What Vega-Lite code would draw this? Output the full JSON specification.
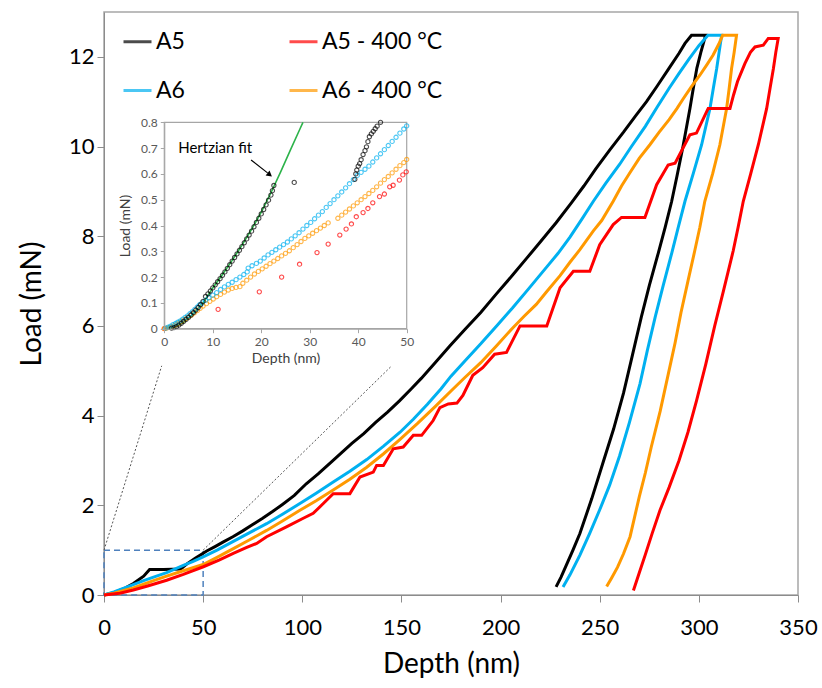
{
  "$schema": "https://vega.github.io/schema/vega-lite/v6.json",
  "width": 694,
  "height": 583,
  "autosize": {"type": "none"},
  "padding": {"left": 104, "top": 12, "right": 24, "bottom": 93},
  "background": "white",
  "config": {
    "font": "Lato",
    "view": {"stroke": "#a6a6a6", "strokeWidth": 1.5},
    "axis": {"grid": false, "domainColor": "#8c8c8c", "tickColor": "#8c8c8c", "labelColor": "#000000", "titleColor": "#000000", "titleFontWeight": "normal", "labelFont": "Lato", "titleFont": "Lato"},
    "legend": {"orient": "none", "legendX": 18, "legendY": 14, "columns": 2, "columnPadding": 98, "rowPadding": 21, "symbolType": "stroke", "symbolSize": 784, "symbolStrokeWidth": 3, "labelFontSize": 23, "labelOffset": 3, "padding": 0, "labelFont": "Lato", "labelColor": "#000000", "labelLimit": 300}
  },
  "datasets": {
    "main": [
      {"s":"A5","i":1,"d":0,"p":0},{"s":"A5","i":2,"d":5,"p":0.05},{"s":"A5","i":3,"d":10,"p":0.14},{"s":"A5","i":4,"d":15,"p":0.26},{"s":"A5","i":5,"d":20,"p":0.42},{"s":"A5","i":6,"d":23,"p":0.57},{"s":"A5","i":7,"d":30,"p":0.57},{"s":"A5","i":8,"d":38.7,"p":0.58},{"s":"A5","i":9,"d":42,"p":0.7},{"s":"A5","i":10,"d":46,"p":0.82},{"s":"A5","i":11,"d":51.8,"p":0.98},{"s":"A5","i":12,"d":56,"p":1.08},{"s":"A5","i":13,"d":60,"p":1.18},{"s":"A5","i":14,"d":65,"p":1.3},{"s":"A5","i":15,"d":70,"p":1.43},{"s":"A5","i":16,"d":75,"p":1.57},{"s":"A5","i":17,"d":80,"p":1.71},{"s":"A5","i":18,"d":85,"p":1.86},{"s":"A5","i":19,"d":90,"p":2.02},{"s":"A5","i":20,"d":96,"p":2.22},{"s":"A5","i":21,"d":102,"p":2.48},{"s":"A5","i":22,"d":108,"p":2.7},{"s":"A5","i":23,"d":115,"p":2.98},{"s":"A5","i":24,"d":120,"p":3.18},{"s":"A5","i":25,"d":125,"p":3.38},{"s":"A5","i":26,"d":131,"p":3.6},{"s":"A5","i":27,"d":137,"p":3.85},{"s":"A5","i":28,"d":143,"p":4.08},{"s":"A5","i":29,"d":149,"p":4.33},{"s":"A5","i":30,"d":155,"p":4.6},{"s":"A5","i":31,"d":160,"p":4.83},{"s":"A5","i":32,"d":167,"p":5.18},{"s":"A5","i":33,"d":174.5,"p":5.56},{"s":"A5","i":34,"d":182,"p":5.92},{"s":"A5","i":35,"d":190,"p":6.3},{"s":"A5","i":36,"d":198,"p":6.72},{"s":"A5","i":37,"d":206.4,"p":7.15},{"s":"A5","i":38,"d":213,"p":7.5},{"s":"A5","i":39,"d":220,"p":7.87},{"s":"A5","i":40,"d":228,"p":8.3},{"s":"A5","i":41,"d":235.8,"p":8.75},{"s":"A5","i":42,"d":242,"p":9.12},{"s":"A5","i":43,"d":248,"p":9.5},{"s":"A5","i":44,"d":255,"p":9.92},{"s":"A5","i":45,"d":262,"p":10.32},{"s":"A5","i":46,"d":268,"p":10.68},{"s":"A5","i":47,"d":273.6,"p":11.0},{"s":"A5","i":48,"d":279,"p":11.35},{"s":"A5","i":49,"d":285,"p":11.75},{"s":"A5","i":50,"d":290,"p":12.08},{"s":"A5","i":51,"d":293,"p":12.3},{"s":"A5","i":52,"d":296.3,"p":12.48},{"s":"A5","i":53,"d":303.4,"p":12.48},{"s":"A5","i":54,"d":301,"p":12.1},{"s":"A5","i":55,"d":299,"p":11.75},{"s":"A5","i":56,"d":297.2,"p":11.3},{"s":"A5","i":57,"d":295.5,"p":10.85},{"s":"A5","i":58,"d":292,"p":10.0},{"s":"A5","i":59,"d":289,"p":9.35},{"s":"A5","i":60,"d":286.3,"p":8.78},{"s":"A5","i":61,"d":283,"p":8.2},{"s":"A5","i":62,"d":279.5,"p":7.62},{"s":"A5","i":63,"d":275,"p":6.9},{"s":"A5","i":64,"d":271,"p":6.2},{"s":"A5","i":65,"d":266.5,"p":5.35},{"s":"A5","i":66,"d":262,"p":4.5},{"s":"A5","i":67,"d":257,"p":3.7},{"s":"A5","i":68,"d":252,"p":3.0},{"s":"A5","i":69,"d":246,"p":2.15},{"s":"A5","i":70,"d":240,"p":1.37},{"s":"A5","i":71,"d":236.5,"p":1.0},{"s":"A5","i":72,"d":233,"p":0.65},{"s":"A5","i":73,"d":230.5,"p":0.4},{"s":"A5","i":74,"d":228,"p":0.18},
      {"s":"A6","i":1,"d":0,"p":0},{"s":"A6","i":2,"d":5,"p":0.07},{"s":"A6","i":3,"d":10,"p":0.15},{"s":"A6","i":4,"d":14.8,"p":0.23},{"s":"A6","i":5,"d":20,"p":0.32},{"s":"A6","i":6,"d":25,"p":0.4},{"s":"A6","i":7,"d":31.6,"p":0.5},{"s":"A6","i":8,"d":40,"p":0.66},{"s":"A6","i":9,"d":45,"p":0.75},{"s":"A6","i":10,"d":50,"p":0.85},{"s":"A6","i":11,"d":57,"p":1.0},{"s":"A6","i":12,"d":65,"p":1.19},{"s":"A6","i":13,"d":73,"p":1.38},{"s":"A6","i":14,"d":82,"p":1.59},{"s":"A6","i":15,"d":90,"p":1.8},{"s":"A6","i":16,"d":98.8,"p":2.04},{"s":"A6","i":17,"d":107,"p":2.27},{"s":"A6","i":18,"d":115.6,"p":2.52},{"s":"A6","i":19,"d":124,"p":2.76},{"s":"A6","i":20,"d":132.5,"p":3.02},{"s":"A6","i":21,"d":141,"p":3.32},{"s":"A6","i":22,"d":149.3,"p":3.63},{"s":"A6","i":23,"d":156,"p":3.92},{"s":"A6","i":24,"d":163,"p":4.25},{"s":"A6","i":25,"d":170,"p":4.6},{"s":"A6","i":26,"d":175,"p":4.88},{"s":"A6","i":27,"d":182,"p":5.22},{"s":"A6","i":28,"d":190,"p":5.6},{"s":"A6","i":29,"d":198,"p":6.0},{"s":"A6","i":30,"d":206,"p":6.4},{"s":"A6","i":31,"d":214,"p":6.82},{"s":"A6","i":32,"d":223,"p":7.3},{"s":"A6","i":33,"d":229,"p":7.62},{"s":"A6","i":34,"d":235,"p":7.98},{"s":"A6","i":35,"d":241,"p":8.38},{"s":"A6","i":36,"d":246.8,"p":8.78},{"s":"A6","i":37,"d":253,"p":9.18},{"s":"A6","i":38,"d":260,"p":9.6},{"s":"A6","i":39,"d":266,"p":10.0},{"s":"A6","i":40,"d":273,"p":10.45},{"s":"A6","i":41,"d":279,"p":10.88},{"s":"A6","i":42,"d":285,"p":11.3},{"s":"A6","i":43,"d":290,"p":11.63},{"s":"A6","i":44,"d":295,"p":11.95},{"s":"A6","i":45,"d":300,"p":12.25},{"s":"A6","i":46,"d":304.6,"p":12.48},{"s":"A6","i":47,"d":311.5,"p":12.48},{"s":"A6","i":48,"d":310.2,"p":12.1},{"s":"A6","i":49,"d":309,"p":11.74},{"s":"A6","i":50,"d":307.3,"p":11.3},{"s":"A6","i":51,"d":305.6,"p":10.85},{"s":"A6","i":52,"d":301.4,"p":10.04},{"s":"A6","i":53,"d":297.2,"p":9.4},{"s":"A6","i":54,"d":293,"p":8.78},{"s":"A6","i":55,"d":289.6,"p":8.2},{"s":"A6","i":56,"d":286.3,"p":7.62},{"s":"A6","i":57,"d":282,"p":6.9},{"s":"A6","i":58,"d":278,"p":6.2},{"s":"A6","i":59,"d":274,"p":5.45},{"s":"A6","i":60,"d":270.3,"p":4.71},{"s":"A6","i":61,"d":265,"p":3.85},{"s":"A6","i":62,"d":260,"p":3.1},{"s":"A6","i":63,"d":255,"p":2.45},{"s":"A6","i":64,"d":250,"p":1.9},{"s":"A6","i":65,"d":245,"p":1.38},{"s":"A6","i":66,"d":240,"p":0.89},{"s":"A6","i":67,"d":235,"p":0.45},{"s":"A6","i":68,"d":231.5,"p":0.18},
      {"s":"A6 - 400 °C","i":1,"d":0,"p":0},{"s":"A6 - 400 °C","i":2,"d":5,"p":0.04},{"s":"A6 - 400 °C","i":3,"d":10,"p":0.1},{"s":"A6 - 400 °C","i":4,"d":14.8,"p":0.16},{"s":"A6 - 400 °C","i":5,"d":20,"p":0.24},{"s":"A6 - 400 °C","i":6,"d":25,"p":0.32},{"s":"A6 - 400 °C","i":7,"d":31.6,"p":0.42},{"s":"A6 - 400 °C","i":8,"d":40,"p":0.54},{"s":"A6 - 400 °C","i":9,"d":50,"p":0.68},{"s":"A6 - 400 °C","i":10,"d":57,"p":0.84},{"s":"A6 - 400 °C","i":11,"d":65,"p":1.03},{"s":"A6 - 400 °C","i":12,"d":73,"p":1.22},{"s":"A6 - 400 °C","i":13,"d":82,"p":1.44},{"s":"A6 - 400 °C","i":14,"d":90,"p":1.65},{"s":"A6 - 400 °C","i":15,"d":98.8,"p":1.89},{"s":"A6 - 400 °C","i":16,"d":107,"p":2.1},{"s":"A6 - 400 °C","i":17,"d":115.6,"p":2.34},{"s":"A6 - 400 °C","i":18,"d":124,"p":2.58},{"s":"A6 - 400 °C","i":19,"d":132.5,"p":2.85},{"s":"A6 - 400 °C","i":20,"d":141,"p":3.15},{"s":"A6 - 400 °C","i":21,"d":149.3,"p":3.47},{"s":"A6 - 400 °C","i":22,"d":158,"p":3.82},{"s":"A6 - 400 °C","i":23,"d":167,"p":4.2},{"s":"A6 - 400 °C","i":24,"d":175,"p":4.55},{"s":"A6 - 400 °C","i":25,"d":182,"p":4.85},{"s":"A6 - 400 °C","i":26,"d":190,"p":5.18},{"s":"A6 - 400 °C","i":27,"d":198,"p":5.56},{"s":"A6 - 400 °C","i":28,"d":206,"p":5.95},{"s":"A6 - 400 °C","i":29,"d":212,"p":6.22},{"s":"A6 - 400 °C","i":30,"d":218,"p":6.48},{"s":"A6 - 400 °C","i":31,"d":223,"p":6.75},{"s":"A6 - 400 °C","i":32,"d":230,"p":7.12},{"s":"A6 - 400 °C","i":33,"d":235,"p":7.42},{"s":"A6 - 400 °C","i":34,"d":240,"p":7.7},{"s":"A6 - 400 °C","i":35,"d":246.8,"p":8.12},{"s":"A6 - 400 °C","i":36,"d":251,"p":8.35},{"s":"A6 - 400 °C","i":37,"d":256.8,"p":8.78},{"s":"A6 - 400 °C","i":38,"d":261,"p":9.12},{"s":"A6 - 400 °C","i":39,"d":265.3,"p":9.42},{"s":"A6 - 400 °C","i":40,"d":270,"p":9.74},{"s":"A6 - 400 °C","i":41,"d":275.3,"p":10.04},{"s":"A6 - 400 °C","i":42,"d":280,"p":10.32},{"s":"A6 - 400 °C","i":43,"d":285,"p":10.6},{"s":"A6 - 400 °C","i":44,"d":289,"p":10.85},{"s":"A6 - 400 °C","i":45,"d":292.2,"p":11.07},{"s":"A6 - 400 °C","i":46,"d":296,"p":11.32},{"s":"A6 - 400 °C","i":47,"d":300.5,"p":11.59},{"s":"A6 - 400 °C","i":48,"d":304,"p":11.82},{"s":"A6 - 400 °C","i":49,"d":307.2,"p":12.04},{"s":"A6 - 400 °C","i":50,"d":310,"p":12.28},{"s":"A6 - 400 °C","i":51,"d":312,"p":12.48},{"s":"A6 - 400 °C","i":52,"d":319,"p":12.48},{"s":"A6 - 400 °C","i":53,"d":317.8,"p":12.1},{"s":"A6 - 400 °C","i":54,"d":316.5,"p":11.74},{"s":"A6 - 400 °C","i":55,"d":315.3,"p":11.3},{"s":"A6 - 400 °C","i":56,"d":314,"p":10.85},{"s":"A6 - 400 °C","i":57,"d":310.6,"p":10.04},{"s":"A6 - 400 °C","i":58,"d":307,"p":9.4},{"s":"A6 - 400 °C","i":59,"d":303,"p":8.78},{"s":"A6 - 400 °C","i":60,"d":300.5,"p":8.2},{"s":"A6 - 400 °C","i":61,"d":297.9,"p":7.67},{"s":"A6 - 400 °C","i":62,"d":294.5,"p":7.0},{"s":"A6 - 400 °C","i":63,"d":291,"p":6.3},{"s":"A6 - 400 °C","i":64,"d":288,"p":5.62},{"s":"A6 - 400 °C","i":65,"d":284.6,"p":4.93},{"s":"A6 - 400 °C","i":66,"d":280.5,"p":4.1},{"s":"A6 - 400 °C","i":67,"d":276,"p":3.3},{"s":"A6 - 400 °C","i":68,"d":273,"p":2.72},{"s":"A6 - 400 °C","i":69,"d":270,"p":2.2},{"s":"A6 - 400 °C","i":70,"d":267.5,"p":1.72},{"s":"A6 - 400 °C","i":71,"d":265.3,"p":1.3},{"s":"A6 - 400 °C","i":72,"d":262,"p":0.92},{"s":"A6 - 400 °C","i":73,"d":259,"p":0.62},{"s":"A6 - 400 °C","i":74,"d":256,"p":0.38},{"s":"A6 - 400 °C","i":75,"d":253.5,"p":0.19},
      {"s":"A5 - 400 °C","i":1,"d":0,"p":0},{"s":"A5 - 400 °C","i":2,"d":8,"p":0.04},{"s":"A5 - 400 °C","i":3,"d":14.8,"p":0.11},{"s":"A5 - 400 °C","i":4,"d":22,"p":0.2},{"s":"A5 - 400 °C","i":5,"d":31.6,"p":0.33},{"s":"A5 - 400 °C","i":6,"d":40,"p":0.46},{"s":"A5 - 400 °C","i":7,"d":50.1,"p":0.63},{"s":"A5 - 400 °C","i":8,"d":58,"p":0.78},{"s":"A5 - 400 °C","i":9,"d":65.2,"p":0.93},{"s":"A5 - 400 °C","i":10,"d":72,"p":1.06},{"s":"A5 - 400 °C","i":11,"d":77,"p":1.15},{"s":"A5 - 400 °C","i":12,"d":82,"p":1.3},{"s":"A5 - 400 °C","i":13,"d":92,"p":1.52},{"s":"A5 - 400 °C","i":14,"d":100,"p":1.7},{"s":"A5 - 400 °C","i":15,"d":105.5,"p":1.82},{"s":"A5 - 400 °C","i":16,"d":110.6,"p":2.04},{"s":"A5 - 400 °C","i":17,"d":115.6,"p":2.26},{"s":"A5 - 400 °C","i":18,"d":124,"p":2.26},{"s":"A5 - 400 °C","i":19,"d":129.1,"p":2.63},{"s":"A5 - 400 °C","i":20,"d":135.8,"p":2.74},{"s":"A5 - 400 °C","i":21,"d":137.5,"p":2.89},{"s":"A5 - 400 °C","i":22,"d":140.9,"p":2.89},{"s":"A5 - 400 °C","i":23,"d":145.9,"p":3.26},{"s":"A5 - 400 °C","i":24,"d":150.9,"p":3.3},{"s":"A5 - 400 °C","i":25,"d":156,"p":3.56},{"s":"A5 - 400 °C","i":26,"d":160.2,"p":3.56},{"s":"A5 - 400 °C","i":27,"d":166,"p":3.89},{"s":"A5 - 400 °C","i":28,"d":169.4,"p":4.18},{"s":"A5 - 400 °C","i":29,"d":173.6,"p":4.26},{"s":"A5 - 400 °C","i":30,"d":178,"p":4.28},{"s":"A5 - 400 °C","i":31,"d":181,"p":4.45},{"s":"A5 - 400 °C","i":32,"d":186,"p":4.9},{"s":"A5 - 400 °C","i":33,"d":191,"p":5.07},{"s":"A5 - 400 °C","i":34,"d":197,"p":5.37},{"s":"A5 - 400 °C","i":35,"d":203,"p":5.41},{"s":"A5 - 400 °C","i":36,"d":209.8,"p":6.0},{"s":"A5 - 400 °C","i":37,"d":223.3,"p":6.0},{"s":"A5 - 400 °C","i":38,"d":230,"p":6.85},{"s":"A5 - 400 °C","i":39,"d":236.7,"p":7.22},{"s":"A5 - 400 °C","i":40,"d":245,"p":7.22},{"s":"A5 - 400 °C","i":41,"d":250,"p":7.81},{"s":"A5 - 400 °C","i":42,"d":256.8,"p":8.26},{"s":"A5 - 400 °C","i":43,"d":261,"p":8.42},{"s":"A5 - 400 °C","i":44,"d":272.8,"p":8.42},{"s":"A5 - 400 °C","i":45,"d":278.7,"p":9.15},{"s":"A5 - 400 °C","i":46,"d":284.5,"p":9.59},{"s":"A5 - 400 °C","i":47,"d":288,"p":9.63},{"s":"A5 - 400 °C","i":48,"d":295.5,"p":10.26},{"s":"A5 - 400 °C","i":49,"d":298.8,"p":10.3},{"s":"A5 - 400 °C","i":50,"d":304.7,"p":10.85},{"s":"A5 - 400 °C","i":51,"d":315.7,"p":10.85},{"s":"A5 - 400 °C","i":52,"d":317.5,"p":11.15},{"s":"A5 - 400 °C","i":53,"d":319.5,"p":11.45},{"s":"A5 - 400 °C","i":54,"d":323.2,"p":11.85},{"s":"A5 - 400 °C","i":55,"d":326,"p":12.1},{"s":"A5 - 400 °C","i":56,"d":328.3,"p":12.22},{"s":"A5 - 400 °C","i":57,"d":332.5,"p":12.26},{"s":"A5 - 400 °C","i":58,"d":335,"p":12.41},{"s":"A5 - 400 °C","i":59,"d":340,"p":12.41},{"s":"A5 - 400 °C","i":60,"d":338.8,"p":12.1},{"s":"A5 - 400 °C","i":61,"d":337.6,"p":11.74},{"s":"A5 - 400 °C","i":62,"d":335.9,"p":11.3},{"s":"A5 - 400 °C","i":63,"d":334.2,"p":10.85},{"s":"A5 - 400 °C","i":64,"d":330,"p":10.04},{"s":"A5 - 400 °C","i":65,"d":326.2,"p":9.4},{"s":"A5 - 400 °C","i":66,"d":322.4,"p":8.78},{"s":"A5 - 400 °C","i":67,"d":319.8,"p":8.2},{"s":"A5 - 400 °C","i":68,"d":317.3,"p":7.67},{"s":"A5 - 400 °C","i":69,"d":312.5,"p":6.8},{"s":"A5 - 400 °C","i":70,"d":308,"p":6.0},{"s":"A5 - 400 °C","i":71,"d":303.5,"p":5.15},{"s":"A5 - 400 °C","i":72,"d":298.8,"p":4.33},{"s":"A5 - 400 °C","i":73,"d":294.5,"p":3.63},{"s":"A5 - 400 °C","i":74,"d":290,"p":3.0},{"s":"A5 - 400 °C","i":75,"d":285,"p":2.4},{"s":"A5 - 400 °C","i":76,"d":280.4,"p":1.89},{"s":"A5 - 400 °C","i":77,"d":276.5,"p":1.38},{"s":"A5 - 400 °C","i":78,"d":273,"p":0.9},{"s":"A5 - 400 °C","i":79,"d":270,"p":0.5},{"s":"A5 - 400 °C","i":80,"d":267,"p":0.1}
    ],
    "box": [{"d": 0, "p": 0, "d2": 50, "p2": 1}],
    "conn": [{"d": 0, "p": 1, "d2": 29.1, "p2": 5.11}, {"d": 50, "p": 1, "d2": 145.1, "p2": 5.11}],
    "frame": [{"d": 0, "p": 0, "d2": 50, "p2": 0.8}],
    "fit": [{"d":0,"p":0},{"d":2,"p":0.005},{"d":4,"p":0.025},{"d":6,"p":0.058},{"d":8,"p":0.1},{"d":10,"p":0.158},{"d":12,"p":0.21},{"d":14,"p":0.265},{"d":16,"p":0.323},{"d":18,"p":0.385},{"d":20,"p":0.452},{"d":22,"p":0.527},{"d":24,"p":0.608},{"d":26,"p":0.692},{"d":28,"p":0.775},{"d":28.6,"p":0.8}],
    "ann": [{"d": 10.5, "p": 0.70, "t": "Hertzian fit"}],
    "arrow": [{"d": 17.9, "p": 0.654, "d2": 21.3, "p2": 0.604}],
    "head": [{"d": 21.6, "p": 0.599}],
    "inset": [
      {"s":"A5 - 400 °C","d":0,"p":0},{"s":"A5 - 400 °C","d":11.1,"p":0.075},{"s":"A5 - 400 °C","d":19.6,"p":0.143},{"s":"A5 - 400 °C","d":24.2,"p":0.2},{"s":"A5 - 400 °C","d":27.9,"p":0.25},{"s":"A5 - 400 °C","d":31.5,"p":0.295},{"s":"A5 - 400 °C","d":33.8,"p":0.328},{"s":"A5 - 400 °C","d":36.2,"p":0.363},{"s":"A5 - 400 °C","d":37.5,"p":0.386},{"s":"A5 - 400 °C","d":38.6,"p":0.406},{"s":"A5 - 400 °C","d":39.6,"p":0.434},{"s":"A5 - 400 °C","d":41,"p":0.45},{"s":"A5 - 400 °C","d":42,"p":0.466},{"s":"A5 - 400 °C","d":43,"p":0.488},{"s":"A5 - 400 °C","d":44.4,"p":0.512},{"s":"A5 - 400 °C","d":45.4,"p":0.522},{"s":"A5 - 400 °C","d":46.5,"p":0.55},{"s":"A5 - 400 °C","d":47.2,"p":0.556},{"s":"A5 - 400 °C","d":48.5,"p":0.576},{"s":"A5 - 400 °C","d":49.2,"p":0.596},{"s":"A5 - 400 °C","d":49.9,"p":0.608},
      {"s":"A6 - 400 °C","d":0,"p":0},{"s":"A6 - 400 °C","d":0.5,"p":0.002},{"s":"A6 - 400 °C","d":1,"p":0.005},{"s":"A6 - 400 °C","d":1.5,"p":0.008},{"s":"A6 - 400 °C","d":2,"p":0.012},{"s":"A6 - 400 °C","d":2.5,"p":0.017},{"s":"A6 - 400 °C","d":3,"p":0.022},{"s":"A6 - 400 °C","d":3.5,"p":0.028},{"s":"A6 - 400 °C","d":4,"p":0.034},{"s":"A6 - 400 °C","d":4.5,"p":0.04},{"s":"A6 - 400 °C","d":5,"p":0.046},{"s":"A6 - 400 °C","d":5.6,"p":0.053},{"s":"A6 - 400 °C","d":6.2,"p":0.061},{"s":"A6 - 400 °C","d":6.8,"p":0.07},{"s":"A6 - 400 °C","d":7.4,"p":0.079},{"s":"A6 - 400 °C","d":8,"p":0.088},{"s":"A6 - 400 °C","d":8.7,"p":0.097},{"s":"A6 - 400 °C","d":9.4,"p":0.106},{"s":"A6 - 400 °C","d":10.1,"p":0.115},{"s":"A6 - 400 °C","d":10.8,"p":0.124},{"s":"A6 - 400 °C","d":11.6,"p":0.133},{"s":"A6 - 400 °C","d":12.4,"p":0.142},{"s":"A6 - 400 °C","d":13.2,"p":0.15},{"s":"A6 - 400 °C","d":14,"p":0.156},{"s":"A6 - 400 °C","d":14.8,"p":0.16},{"s":"A6 - 400 °C","d":15.6,"p":0.163},{"s":"A6 - 400 °C","d":16.2,"p":0.176},{"s":"A6 - 400 °C","d":17,"p":0.188},{"s":"A6 - 400 °C","d":17.8,"p":0.2},{"s":"A6 - 400 °C","d":18.6,"p":0.212},{"s":"A6 - 400 °C","d":19.4,"p":0.222},{"s":"A6 - 400 °C","d":20.2,"p":0.232},{"s":"A6 - 400 °C","d":21,"p":0.242},{"s":"A6 - 400 °C","d":21.8,"p":0.252},{"s":"A6 - 400 °C","d":22.6,"p":0.262},{"s":"A6 - 400 °C","d":23.4,"p":0.272},{"s":"A6 - 400 °C","d":24.2,"p":0.282},{"s":"A6 - 400 °C","d":25,"p":0.292},{"s":"A6 - 400 °C","d":25.8,"p":0.302},{"s":"A6 - 400 °C","d":26.6,"p":0.314},{"s":"A6 - 400 °C","d":27.4,"p":0.326},{"s":"A6 - 400 °C","d":28.2,"p":0.338},{"s":"A6 - 400 °C","d":29,"p":0.35},{"s":"A6 - 400 °C","d":29.8,"p":0.36},{"s":"A6 - 400 °C","d":30.6,"p":0.37},{"s":"A6 - 400 °C","d":31.4,"p":0.38},{"s":"A6 - 400 °C","d":32.2,"p":0.39},{"s":"A6 - 400 °C","d":33,"p":0.4},{"s":"A6 - 400 °C","d":33.8,"p":0.41},{"s":"A6 - 400 °C","d":35.8,"p":0.428},{"s":"A6 - 400 °C","d":36.6,"p":0.44},{"s":"A6 - 400 °C","d":37.4,"p":0.452},{"s":"A6 - 400 °C","d":38.2,"p":0.464},{"s":"A6 - 400 °C","d":39,"p":0.476},{"s":"A6 - 400 °C","d":39.8,"p":0.488},{"s":"A6 - 400 °C","d":40.6,"p":0.5},{"s":"A6 - 400 °C","d":41.4,"p":0.512},{"s":"A6 - 400 °C","d":42.2,"p":0.524},{"s":"A6 - 400 °C","d":43,"p":0.536},{"s":"A6 - 400 °C","d":43.8,"p":0.55},{"s":"A6 - 400 °C","d":44.6,"p":0.564},{"s":"A6 - 400 °C","d":45.4,"p":0.578},{"s":"A6 - 400 °C","d":46.2,"p":0.59},{"s":"A6 - 400 °C","d":47,"p":0.604},{"s":"A6 - 400 °C","d":47.8,"p":0.618},{"s":"A6 - 400 °C","d":48.6,"p":0.632},{"s":"A6 - 400 °C","d":49.4,"p":0.644},{"s":"A6 - 400 °C","d":50,"p":0.656},
      {"s":"A6","d":0.3,"p":0.002},{"s":"A6","d":0.8,"p":0.006},{"s":"A6","d":1.3,"p":0.01},{"s":"A6","d":1.8,"p":0.016},{"s":"A6","d":2.3,"p":0.02},{"s":"A6","d":2.8,"p":0.025},{"s":"A6","d":3.3,"p":0.03},{"s":"A6","d":3.8,"p":0.037},{"s":"A6","d":4.3,"p":0.044},{"s":"A6","d":4.8,"p":0.05},{"s":"A6","d":5.3,"p":0.058},{"s":"A6","d":5.8,"p":0.066},{"s":"A6","d":6.3,"p":0.075},{"s":"A6","d":6.8,"p":0.084},{"s":"A6","d":7.3,"p":0.093},{"s":"A6","d":7.8,"p":0.1},{"s":"A6","d":8.5,"p":0.11},{"s":"A6","d":9.2,"p":0.12},{"s":"A6","d":10,"p":0.13},{"s":"A6","d":10.8,"p":0.14},{"s":"A6","d":11.6,"p":0.152},{"s":"A6","d":12.4,"p":0.162},{"s":"A6","d":13.2,"p":0.172},{"s":"A6","d":14,"p":0.18},{"s":"A6","d":14.8,"p":0.19},{"s":"A6","d":15.6,"p":0.2},{"s":"A6","d":16.4,"p":0.21},{"s":"A6","d":17.1,"p":0.22},{"s":"A6","d":17.3,"p":0.235},{"s":"A6","d":18.1,"p":0.244},{"s":"A6","d":19,"p":0.253},{"s":"A6","d":19.8,"p":0.262},{"s":"A6","d":20.6,"p":0.274},{"s":"A6","d":21.4,"p":0.286},{"s":"A6","d":22.2,"p":0.296},{"s":"A6","d":23,"p":0.306},{"s":"A6","d":23.8,"p":0.316},{"s":"A6","d":24.6,"p":0.326},{"s":"A6","d":25.4,"p":0.336},{"s":"A6","d":26.2,"p":0.348},{"s":"A6","d":27,"p":0.36},{"s":"A6","d":27.8,"p":0.372},{"s":"A6","d":28.6,"p":0.386},{"s":"A6","d":29.4,"p":0.4},{"s":"A6","d":30.2,"p":0.412},{"s":"A6","d":31,"p":0.426},{"s":"A6","d":31.8,"p":0.44},{"s":"A6","d":32.6,"p":0.454},{"s":"A6","d":33.4,"p":0.47},{"s":"A6","d":34.2,"p":0.485},{"s":"A6","d":35,"p":0.5},{"s":"A6","d":35.8,"p":0.515},{"s":"A6","d":36.6,"p":0.53},{"s":"A6","d":37.4,"p":0.546},{"s":"A6","d":38.2,"p":0.562},{"s":"A6","d":39,"p":0.578},{"s":"A6","d":39.8,"p":0.594},{"s":"A6","d":40.6,"p":0.606},{"s":"A6","d":41.4,"p":0.618},{"s":"A6","d":42.2,"p":0.63},{"s":"A6","d":43,"p":0.646},{"s":"A6","d":43.8,"p":0.662},{"s":"A6","d":44.6,"p":0.678},{"s":"A6","d":45.4,"p":0.694},{"s":"A6","d":46.2,"p":0.71},{"s":"A6","d":47,"p":0.726},{"s":"A6","d":47.8,"p":0.742},{"s":"A6","d":48.6,"p":0.758},{"s":"A6","d":49.4,"p":0.774},{"s":"A6","d":50,"p":0.786},
      {"s":"A5","d":1.5,"p":0.002},{"s":"A5","d":2,"p":0.004},{"s":"A5","d":2.5,"p":0.008},{"s":"A5","d":3,"p":0.014},{"s":"A5","d":3.5,"p":0.021},{"s":"A5","d":4,"p":0.028},{"s":"A5","d":4.5,"p":0.036},{"s":"A5","d":5,"p":0.044},{"s":"A5","d":5.5,"p":0.053},{"s":"A5","d":6,"p":0.062},{"s":"A5","d":6.5,"p":0.072},{"s":"A5","d":7,"p":0.082},{"s":"A5","d":7.5,"p":0.093},{"s":"A5","d":8,"p":0.106},{"s":"A5","d":8.5,"p":0.125},{"s":"A5","d":9,"p":0.135},{"s":"A5","d":9.5,"p":0.146},{"s":"A5","d":10,"p":0.158},{"s":"A5","d":10.5,"p":0.17},{"s":"A5","d":11,"p":0.182},{"s":"A5","d":11.5,"p":0.194},{"s":"A5","d":12,"p":0.207},{"s":"A5","d":12.5,"p":0.22},{"s":"A5","d":13,"p":0.234},{"s":"A5","d":13.5,"p":0.248},{"s":"A5","d":14,"p":0.262},{"s":"A5","d":14.5,"p":0.276},{"s":"A5","d":15,"p":0.29},{"s":"A5","d":15.5,"p":0.304},{"s":"A5","d":16,"p":0.318},{"s":"A5","d":16.5,"p":0.333},{"s":"A5","d":17,"p":0.348},{"s":"A5","d":17.5,"p":0.363},{"s":"A5","d":18,"p":0.378},{"s":"A5","d":18.5,"p":0.395},{"s":"A5","d":19,"p":0.412},{"s":"A5","d":19.5,"p":0.428},{"s":"A5","d":20,"p":0.445},{"s":"A5","d":20.5,"p":0.462},{"s":"A5","d":21,"p":0.48},{"s":"A5","d":21.5,"p":0.498},{"s":"A5","d":22,"p":0.518},{"s":"A5","d":22.3,"p":0.535},{"s":"A5","d":22.6,"p":0.555},{"s":"A5","d":26.8,"p":0.567},{"s":"A5","d":39.3,"p":0.579},{"s":"A5","d":39.5,"p":0.6},{"s":"A5","d":39.7,"p":0.615},{"s":"A5","d":40,"p":0.63},{"s":"A5","d":40.3,"p":0.64},{"s":"A5","d":40.6,"p":0.655},{"s":"A5","d":41,"p":0.675},{"s":"A5","d":41.4,"p":0.69},{"s":"A5","d":41.7,"p":0.705},{"s":"A5","d":42,"p":0.725},{"s":"A5","d":42.3,"p":0.744},{"s":"A5","d":42.7,"p":0.755},{"s":"A5","d":43.1,"p":0.765},{"s":"A5","d":43.5,"p":0.775},{"s":"A5","d":43.9,"p":0.785},{"s":"A5","d":44.6,"p":0.8}
    ]
  },
  "layer": [
    {
      "encoding": {
        "x": {"field": "d", "type": "quantitative", "scale": {"domain": [0, 350], "nice": false, "zero": false},
              "axis": {"title": "Depth (nm)", "values": [0, 50, 100, 150, 200, 250, 300, 350], "labelFontSize": 22, "titleFontSize": 28, "tickSize": 7, "labelPadding": 15, "titlePadding": 12, "labelFlush": false}},
        "y": {"field": "p", "type": "quantitative", "scale": {"domain": [0, 13], "nice": false, "zero": false},
              "axis": {"title": "Load (mN)", "values": [0, 2, 4, 6, 8, 10, 12], "labelFontSize": 22, "titleFontSize": 28, "tickSize": 7, "labelPadding": 3, "titlePadding": 22, "labelFlush": false}}
      },
      "layer": [
        {"data": {"name": "box"}, "mark": {"type": "rect", "filled": false, "stroke": "#4f81bd", "strokeDash": [6, 4], "strokeWidth": 1.5}, "encoding": {"x2": {"field": "d2"}, "y2": {"field": "p2"}}},
        {"data": {"name": "conn"}, "mark": {"type": "rule", "stroke": "#555555", "strokeDash": [2, 2], "strokeWidth": 1}, "encoding": {"x2": {"field": "d2"}, "y2": {"field": "p2"}}},
        {"data": {"name": "main"}, "mark": {"type": "line", "strokeWidth": 3},
         "encoding": {
           "color": {"field": "s", "type": "nominal", "scale": {"domain": ["A5", "A6", "A5 - 400 °C", "A6 - 400 °C"], "range": ["#000000", "#00b0f0", "#ff0000", "#ff9900"]}, "legend": {"title": null}},
           "order": {"field": "i", "type": "quantitative"}
         }}
      ]
    },
    {
      "encoding": {
        "x": {"field": "d", "type": "quantitative", "scale": {"domain": [0, 50], "range": [60.3, 302.7], "nice": false, "zero": false},
              "axis": {"orient": "bottom", "offset": -266.3, "zindex": 2, "title": "Depth (nm)", "values": [0, 10, 20, 30, 40, 50], "labelFontSize": 12, "titleFontSize": 14, "tickSize": 4, "labelPadding": 4, "titlePadding": 4, "labelColor": "#595959", "titleColor": "#404040", "domainColor": "#a6a6a6", "tickColor": "#a6a6a6", "labelFlush": false}},
        "y": {"field": "p", "type": "quantitative", "scale": {"domain": [0, 0.8], "range": [316.7, 110.3], "nice": false, "zero": false},
              "axis": {"orient": "left", "offset": -60.3, "zindex": 2, "title": "Load (mN)", "values": [0, 0.1, 0.2, 0.3, 0.4, 0.5, 0.6, 0.7, 0.8], "labelExpr": "datum.value == 0 ? '0' : format(datum.value, '.1f')", "labelFontSize": 12, "titleFontSize": 14, "tickSize": 4, "labelPadding": 3, "titlePadding": 8, "labelColor": "#595959", "titleColor": "#404040", "domainColor": "#a6a6a6", "tickColor": "#a6a6a6", "labelFlush": false}}
      },
      "layer": [
        {"data": {"name": "frame"}, "mark": {"type": "rect", "fill": "white", "stroke": "#a6a6a6", "strokeWidth": 1.2}, "encoding": {"x2": {"field": "d2"}, "y2": {"field": "p2"}}},
        {"data": {"name": "fit"}, "mark": {"type": "line", "color": "#2cb34a", "strokeWidth": 1.6}, "encoding": {}},
        {"data": {"name": "inset"}, "mark": {"type": "point", "filled": false, "size": 18, "strokeWidth": 1.1, "opacity": 0.7},
         "encoding": {"color": {"field": "s", "type": "nominal"}}},
        {"data": {"name": "ann"}, "mark": {"type": "text", "fontSize": 15, "align": "center", "baseline": "middle", "color": "#000000"}, "encoding": {"text": {"field": "t"}}},
        {"data": {"name": "arrow"}, "mark": {"type": "rule", "stroke": "#000000", "strokeWidth": 1.2}, "encoding": {"x2": {"field": "d2"}, "y2": {"field": "p2"}}},
        {"data": {"name": "head"}, "mark": {"type": "point", "shape": "triangle", "angle": 129, "size": 40, "filled": true, "color": "#000000", "opacity": 1}, "encoding": {}}
      ]
    }
  ],
  "resolve": {"scale": {"x": "independent", "y": "independent"}}
}
